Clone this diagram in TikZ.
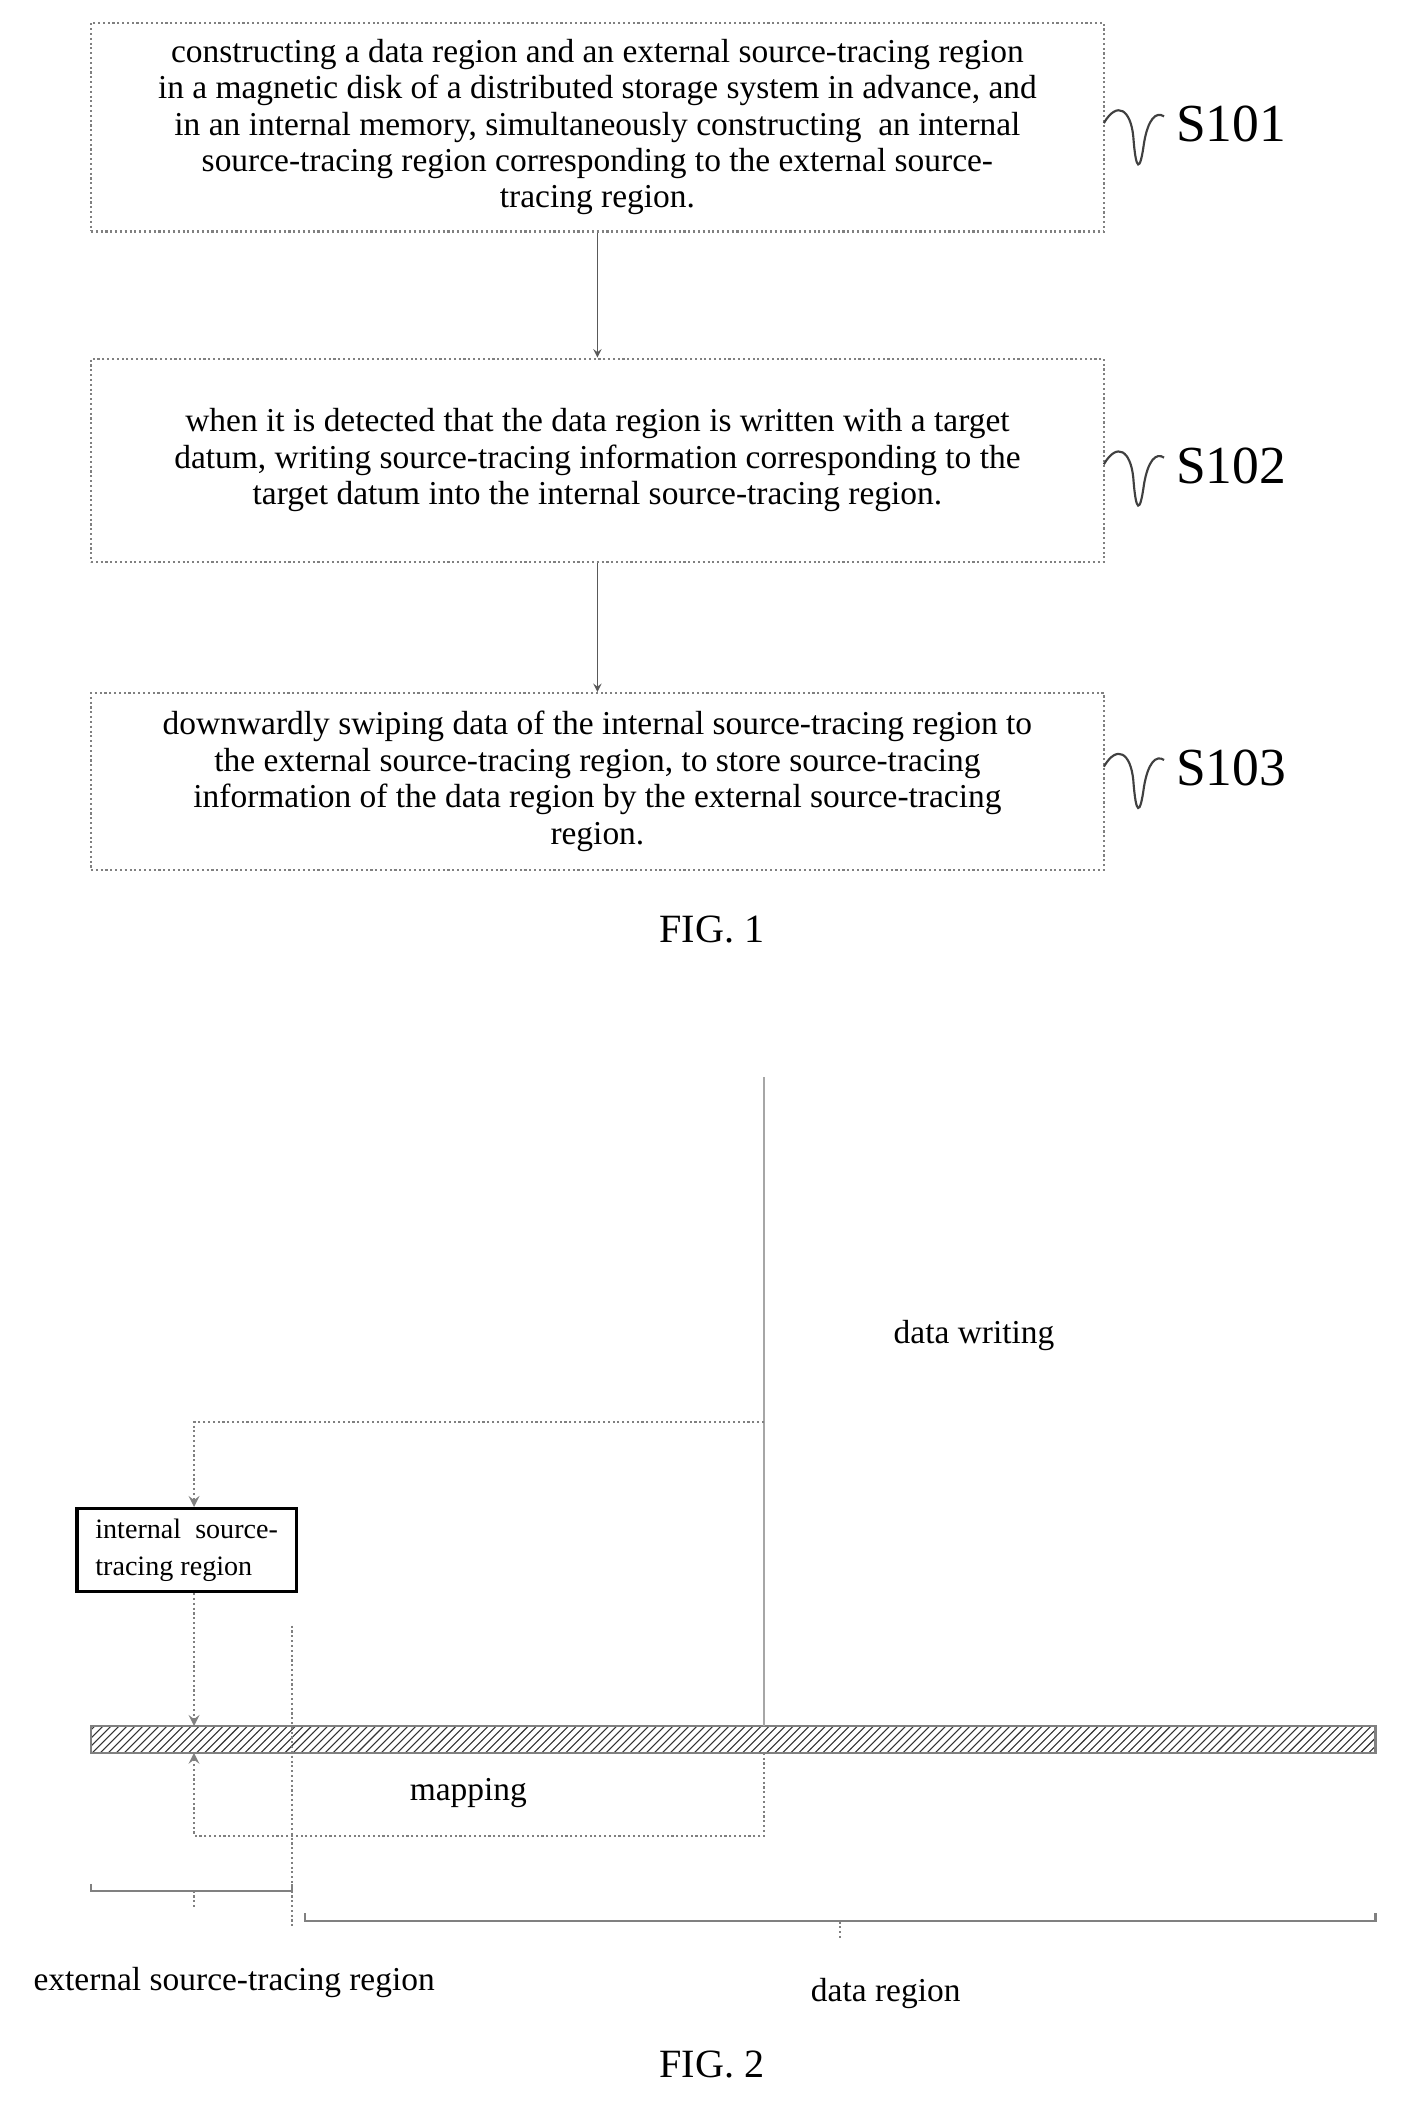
\documentclass[tikz,border=0pt]{standalone}
\usepackage{fontspec}
\setmainfont{Liberation Serif}
\usetikzlibrary{patterns}
\tikzset{
  step/.style={draw=gray, densely dotted, thick, minimum width=378.5pt, minimum height=#1, align=center, font=\fontsize{12.5}{13.6}\selectfont, inner sep=0pt},
  tag/.style={font=\fontsize{20}{22}\selectfont, anchor=west},
  flow/.style={draw=gray!70!black, -stealth},
  link/.style={draw=gray, densely dotted, thick},
  lbl/.style={font=\fontsize{12.5}{14}\selectfont},
}
\begin{document}
\begin{tikzpicture}[x=0.5pt,y=-0.5pt]
  \useasboundingbox (0,0) rectangle (1050,1577);

  % FIG. 1
  \node[step=78pt] (s1) at (446.5,95) {constructing a data region and an external source-tracing region\\in a magnetic disk of a distributed storage system in advance, and\\in an internal memory, simultaneously constructing\ \ an internal\\source-tracing region corresponding to the external source-\\tracing region.};
  \node[step=76pt] (s2) at (446.5,344) {when it is detected that the data region is written with a target\\datum, writing source-tracing information corresponding to the\\target datum into the internal source-tracing region.};
  \node[step=66pt] (s3) at (446.5,584) {downwardly swiping data of the internal source-tracing region to\\the external source-tracing region, to store source-tracing\\information of the data region by the external source-tracing\\region.};
  \draw[flow] (s1) -- (s2);
  \draw[flow] (s2) -- (s3);

  \foreach \n/\y in {1/97,2/352,3/578} {
    \draw[gray!50!black, thick] (825,\y-5) .. controls (835,\y-22) and (845,\y-15) .. (847,\y+5)
      .. controls (849,\y+32) and (852,\y+32) .. (855,\y+10)
      .. controls (858,\y-8) and (864,\y-14) .. (870,\y-10);
    \node[tag] (t\n) at (872,\y-4) {S10\n};
  }
  \node[lbl, font=\fontsize{15}{17}\selectfont] (fig1) at (532,695) {FIG. 1};

  % FIG. 2
  \fill[pattern=north east lines, pattern color=gray!40!black] (68,1290) rectangle (1028,1310);
  \draw[gray, thick] (68,1290) rectangle (1028,1310);
  \coordinate (top) at (571,805);
  \coordinate (hit) at (571,1290);
  \coordinate (turn) at (571,1063);
  \coordinate (corner) at (145,1063);
  \node[draw, very thick, minimum width=82pt, minimum height=31pt, align=left, inner sep=2pt, font=\fontsize{10.5}{14}\selectfont] (inner) at (139.5,1158.5) {internal\ \ source-\\tracing region};
  \draw[gray!70, thick] (top) -- (hit);
  \draw[link, -stealth] (turn) -- (corner) -- (inner.north -| corner);
  \draw[link, -stealth] (inner.south -| corner) -- (145,1290);
  \coordinate (mapR) at (571,1372);
  \coordinate (mapL) at (145,1372);
  \draw[link, -stealth] (571,1310) -- (mapR) -- (mapL) -- (145,1310);
  \draw[link] (218,1215) -- (218,1440);

  % braces
  \draw[gray, thick] (68,1408) -- (68,1413) -- (218,1413) -- (218,1408);
  \draw[link] (145,1413) -- (145,1425);
  \draw[gray, thick] (228,1430) -- (228,1436) -- (1028,1436) -- (1028,1430);
  \draw[link] (628,1436) -- (628,1450);

  \node[lbl] (writing) at (728,998) {data writing};
  \node[lbl] (mapping) at (350,1340) {mapping};
  \node[lbl] (ext) at (175,1482) {external source-tracing region};
  \node[lbl] (data) at (662,1490) {data region};
  \node[lbl, font=\fontsize{15}{17}\selectfont] (fig2) at (532,1543) {FIG. 2};
\end{tikzpicture}
\end{document}
